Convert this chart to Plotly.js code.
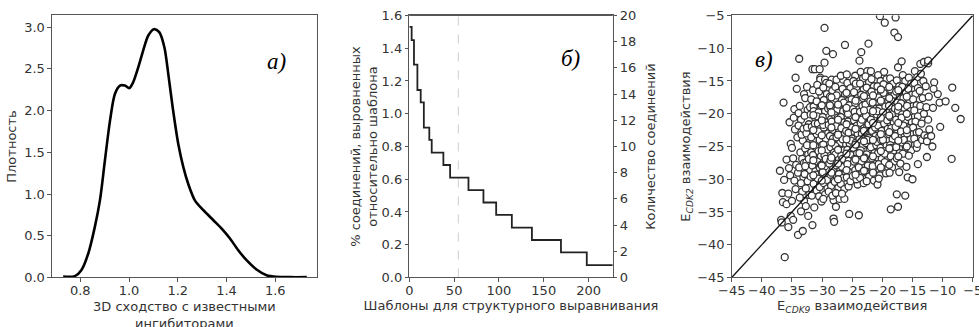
<!DOCTYPE html>
<html><head><meta charset="utf-8">
<script src="https://cdn.plot.ly/plotly-3.0.1.min.js"></script>
<style>html,body{margin:0;padding:0;background:#fff;}#chart{width:979px;height:327px;}</style>
</head><body><div id="chart"></div>
<script>
// Panel а: KDE of 3D similarity
const kdeX = [0.730,0.778,0.805,0.833,0.860,0.881,0.901,0.922,0.942,0.963,0.983,1.001,1.017,1.038,1.058,1.079,1.102,1.124,1.145,1.161,1.179,1.202,1.223,1.243,1.270,1.305,1.346,1.380,1.414,1.448,1.482,1.523,1.564,1.605,1.660,1.729];
const kdeY = [0.010,0.016,0.090,0.290,0.610,0.930,1.400,1.880,2.200,2.300,2.300,2.270,2.340,2.520,2.720,2.900,2.976,2.940,2.760,2.440,2.040,1.600,1.320,1.120,0.925,0.806,0.686,0.586,0.467,0.327,0.207,0.096,0.028,0.008,0.004,0.004];

// Panel б: templates step curve
const templX = [0,2.6,5.2,9,12.7,16.2,22.3,25,38,45.5,66,82.7,96.9,114.4,136.8,169.2,198,227];
const alignedPct = [1.53,1.45,1.30,1.145,1.07,0.915,0.84,0.763,0.687,0.61,0.534,0.458,0.382,0.305,0.229,0.153,0.076,0.076];
const templCutoff = 54.7;
const pctTicks = [0,0.2,0.4,0.6,0.8,1.0,1.2,1.4,1.6];
const countTicks = [0,2,4,6,8,10,12,14,16,18,20];

// Panel в: interaction energies
const cdk9 = [
-37.0,-36.4,-36.6,-36.5,-36.8,-36.7,-36.2,-36.3,-35.9,-35.6,-35.9,-35.6,
-35.4,-35.2,-35.0,-34.8,-35.3,-34.6,-35.0,-35.2,-34.8,-34.6,-34.4,-34.2,-34.5,-34.1,-34.3,-34.0,-34.4,-34.0,-35.5,-34.7,
-33.8,-33.7,-33.5,-33.9,-33.2,-33.6,-33.3,-33.8,-33.1,-33.5,-33.3,-33.0,-33.5,-33.2,-33.0,-33.4,-33.7,-33.0,-33.9,-33.1,
-32.5,-32.3,-32.7,-32.8,-32.4,-32.9,-32.2,-32.6,-32.1,-32.8,-32.3,-32.6,-32.0,-32.9,-32.4,-32.7,-32.1,-32.5,-32.2,-32.8,-32.0,-32.5,
-31.6,-31.2,-31.5,-31.6,-31.3,-31.8,-31.4,-31.9,-31.1,-31.7,-31.2,-31.5,-31.0,-31.8,-31.3,-31.6,-31.1,-31.9,-31.4,-31.0,-31.7,-31.2,-31.5,-31.8,-31.0,-31.4,
-30.4,-30.3,-30.3,-30.1,-30.8,-30.5,-30.9,-30.2,-30.6,-30.1,-30.7,-30.3,-30.9,-30.4,-30.0,-30.6,-30.2,-30.8,-30.4,-30.0,-30.7,-30.3,-30.9,-30.5,-30.1,-30.6,-30.2,-30.8,-30.4,
-29.6,-29.3,-29.6,-29.5,-29.3,-29.8,-29.2,-29.7,-29.1,-29.5,-29.9,-29.3,-29.7,-29.0,-29.4,-29.8,-29.2,-29.6,-29.0,-29.5,-29.9,-29.3,-29.7,-29.1,-29.5,-29.8,-29.0,-29.4,-29.8,-29.2,
-28.2,-28.4,-28.1,-28.0,-28.1,-28.8,-28.3,-28.7,-28.1,-28.6,-28.0,-28.5,-28.9,-28.3,-28.7,-28.1,-28.6,-28.0,-28.4,-28.8,-28.2,-28.6,-28.0,-28.5,-28.9,-28.3,-28.7,-28.2,-28.6,-28.4,
-27.6,-27.7,-27.8,-27.3,-27.7,-27.1,-27.5,-27.9,-27.3,-27.7,-27.2,-27.6,-27.0,-27.4,-27.8,-27.2,-27.6,-27.0,-27.5,-27.9,-27.3,-27.7,-27.1,-27.4,-27.8,-27.2,-27.6,
-26.5,-26.2,-26.3,-26.9,-26.6,-26.2,-26.7,-26.1,-26.5,-26.9,-26.3,-26.8,-26.2,-26.6,-26.0,-26.4,-26.8,-26.2,-26.7,-26.1,-26.5,-26.9,-26.3,-26.7,-26.4,-26.0,-26.6,
-25.9,-25.5,-25.6,-25.8,-25.3,-25.7,-25.1,-25.5,-25.9,-25.3,-25.7,-25.1,-25.6,-25.0,-25.4,-25.8,-25.2,-25.6,-25.0,-25.5,-25.9,-25.3,-25.7,-25.2,-25.8,
-24.5,-24.1,-24.8,-24.3,-24.7,-24.1,-24.5,-24.9,-24.3,-24.7,-24.2,-24.6,-24.0,-24.4,-24.8,-24.2,-24.6,-24.0,-24.5,-24.9,-24.3,-24.6,-24.1,-24.7,-24.4,
-23.5,-23.8,-23.9,-23.6,-23.2,-23.7,-23.1,-23.5,-23.9,-23.3,-23.7,-23.1,-23.6,-23.0,-23.4,-23.8,-23.2,-23.6,-23.0,-23.5,-23.9,-23.3,-23.7,-23.1,-23.4,-23.8,-23.2,
-22.3,-22.5,-22.8,-22.2,-22.6,-22.0,-22.4,-22.8,-22.2,-22.7,-22.1,-22.5,-22.9,-22.3,-22.7,-22.1,-22.6,-22.0,-22.4,-22.8,-22.2,-22.6,-22.0,-22.5,-22.9,-22.3,
-21.9,-21.4,-21.8,-21.2,-21.6,-21.0,-21.5,-21.9,-21.3,-21.7,-21.1,-21.5,-21.9,-21.3,-21.7,-21.1,-21.6,-21.0,-21.4,-21.8,-21.2,-21.6,-21.0,
-20.4,-20.8,-20.7,-20.3,-20.8,-20.2,-20.6,-20.0,-20.5,-20.9,-20.3,-20.7,-20.1,-20.5,-20.9,-20.3,-20.7,-20.1,-20.6,-20.0,-20.4,-20.8,-20.2,-20.6,
-19.6,-19.7,-19.3,-19.8,-19.2,-19.6,-19.0,-19.5,-19.9,-19.3,-19.7,-19.1,-19.5,-19.9,-19.3,-19.7,-19.1,-19.6,-19.0,-19.4,-19.8,-19.2,-19.6,
-18.6,-18.7,-18.2,-18.6,-18.0,-18.5,-18.9,-18.3,-18.7,-18.1,-18.5,-18.9,-18.3,-18.7,-18.1,-18.6,-18.0,-18.4,-18.8,-18.2,-18.6,
-17.8,-18.0,-17.4,-17.4,-17.4,-17.6,-17.2,-17.6,-17.2,-17.7,-17.1,-17.5,-17.9,-17.3,-17.7,-17.1,-17.5,-17.9,-17.3,-17.7,-17.1,-17.6,-17.0,-17.4,-17.8,
-16.8,-16.2,-16.0,-16.6,-16.2,-16.7,-16.1,-16.5,-16.9,-16.3,-16.7,-16.1,-16.5,-16.9,-16.3,-16.7,-16.1,-16.6,-16.4,-16.8,
-15.8,-15.0,-15.6,-15.2,-15.7,-15.1,-15.5,-15.9,-15.3,-15.7,-15.1,-15.5,-15.9,-15.3,-15.7,-15.2,-15.6,
-14.3,-14.1,-14.6,-14.2,-14.7,-14.1,-14.5,-14.9,-14.3,-14.7,-14.1,-14.5,-14.9,-14.3,-14.7,-14.2,
-13.7,-13.1,-13.6,-13.2,-13.8,-13.3,-13.7,-13.1,-13.5,-13.9,-13.4,-13.0,
-12.4,-12.4,-12.6,-12.4,-12.8,-12.3,-12.7,-12.2,-12.5,-12.6,
-11.6,-10.8,-10.5,-10.4,-9.5,-7.9,-7.0,-8.5,-11.4,-11.5,-8.4,-11.9,-11.7,
-31.45,-31.45,-31.45,-31.45,-31.45,
-30.05,-30.05,-30.05,-30.05,-30.05,-30.05,
-28.45,-28.45,-28.45,-28.45,-28.45,-28.45,
-27.35,-27.35,-27.35,-27.35,-27.35,-27.35,
-25.95,-25.95,-25.95,-25.95,-25.95,-25.95,
-24.45,-24.45,-24.45,-24.45,-24.45,-24.45,
-23.05,-23.05,-23.05,-23.05,-23.05,-23.05,
-21.55,-21.55,-21.55,-21.55,-21.55,-21.55,
-20.25,-20.25,-20.25,-20.25,-20.25,-20.25,
-18.85,-18.85,-18.85,-18.85,-18.85,-18.85,
-17.35,-17.35,-17.35,-17.35,-17.35,
-15.95,-15.95,-15.95,-15.95
];
const cdk2 = [
-28.7,-18.3,-32.1,-33.5,-36.2,-36.6,-41.9,-30.1,-27.0,-32.2,-33.8,-37.3,
-21.3,-24.6,-25.2,-26.8,-29.4,-30.2,-33.3,-35.6,-36.2,-19.3,-14.5,-16.2,-22.4,-23.6,-27.8,-29.0,-31.5,-38.5,-28.3,-20.6,
-11.6,-18.8,-20.9,-21.8,-24.1,-25.9,-26.9,-28.2,-29.7,-30.6,-31.9,-33.3,-34.9,-37.9,-17.0,-23.2,-32.8,-27.5,-19.9,-22.3,
-15.9,-35.6,-34.1,-17.6,-19.4,-20.3,-21.6,-23.0,-24.4,-25.3,-26.2,-27.4,-28.6,-29.2,-30.3,-31.4,-32.4,-22.1,-26.9,-28.0,-19.0,-24.8,
-13.2,-13.2,-16.4,-37.0,-34.3,-17.8,-18.9,-20.1,-20.8,-22.0,-23.1,-24.0,-25.1,-25.9,-26.8,-27.9,-28.8,-29.6,-30.7,-31.6,-32.5,-21.5,-26.3,-23.6,-29.3,-19.6,
-13.2,-14.5,-14.8,-17.2,-15.6,-16.6,-18.1,-18.9,-19.8,-20.7,-21.5,-22.3,-23.1,-24.0,-24.8,-25.7,-26.5,-27.3,-28.2,-29.0,-29.9,-30.8,-31.7,-32.6,-33.4,-22.7,-27.8,-20.4,-31.2,
-6.9,-10.4,-12.2,-14.8,-15.3,-16.0,-17.0,-17.9,-18.8,-19.6,-20.5,-21.3,-22.1,-23.0,-23.8,-24.7,-25.5,-26.4,-27.2,-28.0,-28.9,-29.7,-30.6,-31.4,-32.3,-33.0,-19.2,-26.9,-21.7,-30.1,
-10.9,-14.8,-36.0,-36.5,-33.2,-15.4,-16.5,-17.4,-18.3,-19.1,-20.0,-20.8,-21.7,-22.5,-23.4,-24.2,-25.1,-25.9,-26.8,-27.6,-28.5,-29.3,-30.2,-31.0,-31.9,-32.5,-18.7,-23.8,-27.1,-21.2,
-14.8,-34.2,-15.9,-16.8,-17.7,-18.5,-19.4,-20.2,-21.1,-21.9,-22.8,-23.6,-24.5,-25.3,-26.2,-27.0,-27.9,-28.7,-29.6,-30.4,-31.3,-32.1,-33.0,-20.6,-24.9,-29.2,-17.2,
-14.8,-9.5,-33.0,-14.2,-16.2,-17.1,-17.9,-18.8,-19.6,-20.5,-21.3,-22.2,-23.0,-23.9,-24.7,-25.6,-26.4,-27.3,-28.1,-29.0,-29.8,-30.7,-31.5,-32.2,-18.3,-22.6,-26.9,
-14.0,-35.3,-31.1,-15.3,-16.1,-17.0,-17.8,-18.7,-19.5,-20.4,-21.2,-22.1,-22.9,-23.8,-24.6,-25.5,-26.3,-27.2,-28.0,-28.9,-29.7,-30.3,-20.0,-24.1,-27.7,
-14.2,-30.8,-15.0,-15.9,-16.7,-17.6,-18.4,-19.3,-20.1,-21.0,-21.8,-22.7,-23.5,-24.4,-25.2,-26.1,-26.9,-27.8,-28.6,-29.5,-30.0,-19.7,-23.0,-27.3,-15.4,
-10.6,-11.9,-35.5,-13.6,-14.6,-15.4,-16.3,-17.1,-18.0,-18.8,-19.7,-20.5,-21.4,-22.2,-23.1,-23.9,-24.8,-25.6,-26.5,-27.3,-28.2,-29.0,-29.8,-30.6,-20.9,-26.0,-17.6,
-9.3,-13.5,-14.3,-15.2,-16.0,-16.9,-17.7,-18.6,-19.4,-20.3,-21.1,-22.0,-22.8,-23.7,-24.5,-25.4,-26.2,-27.1,-27.9,-28.8,-29.6,-30.3,-18.1,-24.0,-26.7,-21.6,
-13.5,-15.8,-16.6,-17.5,-18.3,-19.2,-20.0,-20.9,-21.7,-22.6,-23.4,-24.3,-25.1,-26.0,-26.8,-27.7,-28.5,-29.4,-30.2,-14.7,-22.1,-28.0,-24.8,
-5.1,-30.8,-14.1,-15.0,-15.8,-16.7,-17.5,-18.4,-19.2,-20.1,-20.9,-21.8,-22.6,-23.5,-24.3,-25.2,-26.0,-26.9,-27.7,-28.6,-29.4,-19.6,-24.0,-29.9,
-6.1,-13.6,-14.7,-15.5,-16.4,-17.2,-18.1,-18.9,-19.8,-20.6,-21.5,-22.3,-23.2,-24.0,-24.9,-25.7,-26.6,-27.4,-28.3,-29.1,-16.8,-21.0,-26.1,
-34.6,-14.6,-15.4,-16.3,-17.1,-18.0,-18.8,-19.7,-20.5,-21.4,-22.2,-23.1,-23.9,-24.8,-25.6,-26.5,-27.3,-28.2,-29.0,-20.0,-25.2,
-5.3,-7.6,-8.3,-12.9,-34.2,-32.3,-28.9,-14.9,-15.8,-16.6,-17.5,-18.3,-19.2,-20.0,-20.9,-21.7,-22.6,-23.4,-24.3,-25.1,-26.0,-26.8,-27.6,-19.5,-22.0,
-12.0,-32.5,-28.1,-14.1,-15.0,-15.9,-16.7,-17.6,-18.4,-19.3,-20.1,-21.0,-21.8,-22.7,-23.5,-24.4,-25.2,-26.1,-24.0,-20.6,
-29.7,-30.0,-14.5,-15.4,-16.2,-17.1,-17.9,-18.8,-19.6,-20.5,-21.3,-22.2,-23.0,-23.9,-24.7,-25.6,-26.4,
-25.2,-27.7,-13.5,-14.4,-15.3,-16.1,-17.0,-17.8,-18.7,-19.5,-20.4,-21.2,-22.1,-22.9,-23.8,-24.6,
-12.4,-12.1,-13.9,-15.0,-16.5,-17.6,-18.8,-20.0,-21.5,-22.8,-24.0,-23.3,
-12.3,-11.9,-26.6,-20.9,-15.8,-17.4,-19.0,-22.4,-23.6,-24.2,
-19.1,-17.0,-18.3,-22.0,-18.1,-19.1,-20.8,-26.9,-15.2,-16.2,-16.0,-23.4,-25.0,
-29.4,-27.1,-24.8,-22.5,-20.2,
-30.2,-27.9,-25.6,-23.3,-21.0,-18.7,
-29.0,-26.7,-24.4,-22.1,-19.8,-17.5,
-30.0,-27.6,-25.5,-23.2,-20.9,-18.6,
-28.6,-26.1,-23.9,-21.6,-19.1,-16.8,
-29.3,-27.0,-24.7,-22.3,-20.5,-18.0,
-28.7,-26.8,-24.2,-22.6,-19.5,-17.3,
-29.0,-26.5,-24.0,-21.4,-19.6,-17.2,
-28.2,-25.7,-23.1,-20.6,-18.0,-16.3,
-27.8,-25.3,-22.8,-20.3,-17.6,-15.9,
-26.5,-24.1,-21.4,-18.9,-16.4,
-25.0,-22.5,-20.0,-17.4
];
const energyRange = [-45, -5];

const axColor = '#555';
const txt = '#333';
function ax(extra) {
  return Object.assign({
    showgrid: false, zeroline: false, showline: true, linecolor: axColor, linewidth: 1,
    ticks: 'outside', ticklen: 3.5, tickwidth: 1, tickcolor: axColor,
    tickfont: {family: 'DejaVu Sans', size: 13, color: txt},
    ticklabeloverflow: 'allow',
    automargin: false
  }, extra);
}
const titleFont = {family: 'DejaVu Sans', size: 13, color: txt};

const traces = [
  {x: kdeX, y: kdeY, type: 'scatter', mode: 'lines', line: {color: '#000', width: 2.6, shape: 'spline', smoothing: 0.8}, xaxis: 'x', yaxis: 'y', hoverinfo: 'skip'},
  {x: [templCutoff, templCutoff], y: [pctTicks[0], pctTicks[pctTicks.length-1]], type: 'scatter', mode: 'lines', line: {color: '#cfcfcf', width: 1, dash: 'dash'}, xaxis: 'x2', yaxis: 'y2', hoverinfo: 'skip'},
  {x: templX, y: alignedPct, type: 'scatter', mode: 'lines', line: {color: '#222', width: 1.8, shape: 'hv'}, xaxis: 'x2', yaxis: 'y2', hoverinfo: 'skip'},
  {x: [], y: [], type: 'scatter', mode: 'lines', xaxis: 'x2', yaxis: 'y3', hoverinfo: 'skip'},
  {x: cdk9, y: cdk2, type: 'scatter', mode: 'markers', marker: {symbol: 'circle', size: 7, color: '#fff', line: {color: '#333', width: 1.3}}, xaxis: 'x3', yaxis: 'y4', hoverinfo: 'skip'},
  {x: energyRange, y: energyRange, type: 'scatter', mode: 'lines', line: {color: '#111', width: 1.3}, xaxis: 'x3', yaxis: 'y4', hoverinfo: 'skip'}
];

const yDom = [0.1514, 0.9526];
const layout = {
  width: 979, height: 327,
  margin: {l: 0, r: 0, t: 0, b: 0},
  paper_bgcolor: '#fff', plot_bgcolor: '#fff',
  showlegend: false,
  font: {family: 'DejaVu Sans', size: 13, color: txt},
  xaxis: ax({domain: [0.0531, 0.3238], range: [0.684, 1.771], dtick: 0.2, tick0: 0, tickformat: '.1f', mirror: true, anchor: 'y', ticklabelstandoff: -3}),
  yaxis: ax({domain: yDom, range: [0, 3.14], dtick: 0.5, tickformat: '.1f', mirror: true, anchor: 'x',
    title: {text: 'Плотность', font: titleFont}}),
  xaxis2: ax({domain: [0.4181, 0.6259], range: [0, 227], dtick: 50, mirror: true, anchor: 'y2', ticklabelstandoff: -3,
    title: {text: 'Шаблоны для структурного выравнивания', font: titleFont, standoff: 4}}),
  yaxis2: ax({domain: yDom, range: [0, 1.6], tickvals: pctTicks, tickformat: '.1f', anchor: 'x2',
    title: {text: '% соединений, выровненных<br>относительно шаблона', font: titleFont}}),
  yaxis3: ax({domain: yDom, range: [0, 20], tickvals: countTicks, overlaying: 'y2', side: 'right', anchor: 'x2',
    title: {text: 'Количество соединений', font: titleFont}}),
  xaxis3: ax({domain: [0.7474, 0.9936], range: energyRange, dtick: 5, mirror: true, anchor: 'y4', ticklabelstandoff: -3,
    title: {text: 'E<sub><i>CDK9</i></sub> взаимодействия', font: titleFont, standoff: 4}}),
  yaxis4: ax({domain: yDom, range: energyRange, dtick: 5, mirror: true, anchor: 'x3',
    title: {text: 'E<sub><i>CDK2</i></sub> взаимодействия', font: titleFont}}),
  shapes: [
    {type: 'line', xref: 'x2 domain', yref: 'y2 domain', x0: 0, x1: 1, y0: 1, y1: 1, line: {color: axColor, width: 1}}
  ],
  annotations: [
    {text: '3D сходство с известными<br>ингибиторами', xref: 'x domain', yref: 'paper', x: 0.5, y: 0.036, xanchor: 'center', yanchor: 'middle', showarrow: false, font: titleFont},
    {text: '<i>а)</i>', xref: 'x domain', yref: 'y domain', x: 0.89, y: 0.878, showarrow: false, font: {family: 'Liberation Serif', size: 23, color: '#000'}},
    {text: '<i>б)</i>', xref: 'x2 domain', yref: 'y2 domain', x: 0.85, y: 0.89, showarrow: false, font: {family: 'Liberation Serif', size: 23, color: '#000'}},
    {text: '<i>в)</i>', xref: 'x3 domain', yref: 'y4 domain', x: 0.088, y: 0.886, showarrow: false, font: {family: 'Liberation Serif', size: 23, color: '#000'}}
  ]
};

Plotly.newPlot('chart', traces, layout, {staticPlot: true, displayModeBar: false});
</script>
</body></html>
